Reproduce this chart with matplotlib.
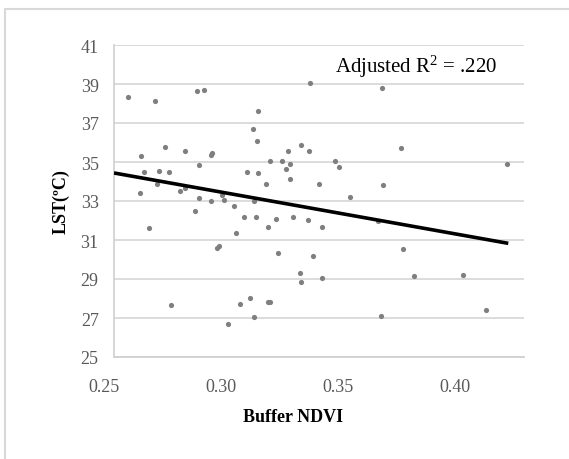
"""Buffer NDVI vs LST scatter with linear trendline (out.png)."""
import numpy as np
import matplotlib
matplotlib.use("Agg")
import matplotlib.pyplot as plt
import matplotlib.transforms as mtransforms
from matplotlib.patches import Rectangle

# values
ndvi = [0.2561, 0.2674, 0.2854, 0.2884, 0.2617, 0.2719, 0.2804, 0.2920, 0.2913,
        0.2862, 0.2629, 0.2691, 0.2736, 0.3066, 0.2612, 0.2685, 0.2782, 0.2803,
        0.2863, 0.2962, 0.3337, 0.3644, 0.3116, 0.3093, 0.3110, 0.3241, 0.3297,
        0.3331, 0.3723, 0.3167, 0.3218, 0.3252, 0.3235, 0.3445, 0.3462, 0.3116,
        0.3150, 0.3252, 0.3376, 0.3649, 0.3508, 0.4176, 0.2913, 0.2844, 0.2968,
        0.3013, 0.3054, 0.3019, 0.2651, 0.2947, 0.2941, 0.2743, 0.3038, 0.3080,
        0.2987, 0.3099, 0.3105, 0.3156, 0.3190, 0.3263, 0.3327, 0.3388, 0.3627,
        0.3201, 0.3349, 0.3733, 0.3293, 0.3298, 0.3389, 0.3779, 0.3156, 0.3167,
        0.3099, 0.3638, 0.3990, 0.4087]
lst = [38.32, 38.11, 38.64, 38.71, 35.31, 35.78, 35.58, 35.45, 35.37,
       34.83, 34.49, 34.55, 34.49, 34.49, 33.41, 33.87, 33.53, 33.67,
       33.15, 33.32, 39.05, 38.78, 37.63, 36.68, 36.06, 35.58, 35.86,
       35.58, 35.72, 35.04, 35.04, 34.90, 34.63, 35.04, 34.76, 34.42,
       33.87, 34.14, 33.87, 33.81, 33.21, 34.90, 32.98, 32.50, 33.05,
       32.73, 32.16, 31.36, 31.63, 30.68, 30.61, 27.67, 27.73, 28.01,
       26.71, 33.02, 32.16, 31.68, 32.09, 32.16, 32.03, 31.68, 31.96,
       30.33, 30.18, 30.52, 29.31, 28.83, 29.04, 29.15, 27.81, 27.81,
       27.05, 27.12, 29.22, 27.39]
trend_intercept = 39.80
trend_slope = -21.45
trend_x = [0.25, 0.4183]
x_ticks = [0.25, 0.30, 0.35, 0.40]
y_ticks = [25, 27, 29, 31, 33, 35, 37, 39, 41]

plt.rcParams["font.family"] = ["Liberation Serif", "DejaVu Serif"]
plt.rcParams["mathtext.fontset"] = "custom"
plt.rcParams["mathtext.rm"] = "Liberation Serif"
plt.rcParams["mathtext.it"] = "Liberation Serif:italic"

fig = plt.figure(figsize=(5.69, 4.60), dpi=100)
# chart-area frame; only its left and top edges fall inside the picture
fig.patches.append(Rectangle((5 / 569, -0.1), 1.2, 1.1 - 10 / 460,
                             transform=fig.transFigure, fill=False,
                             edgecolor="#d9d9d9", lw=1.5))
ax = fig.add_axes([114 / 569, 102 / 460, 410 / 569, 312 / 460])

ax.scatter(ndvi, lst, s=14, color="#7f7f7f", linewidths=0, zorder=3)
tx = np.array(trend_x)
ax.plot(tx, trend_intercept + trend_slope * tx, color="black", lw=2.6,
        solid_capstyle="butt", zorder=4)

ax.set_xlim(0.25, 0.425)
ax.set_ylim(25, 41)
ax.set_xticks(x_ticks)
ax.set_xticklabels([f"{v:.2f}" for v in x_ticks])
ax.set_yticks(y_ticks)
ax.grid(axis="y", color="#d9d9d9", lw=1.3)
ax.set_axisbelow(True)
for side in ("top", "right"):
    ax.spines[side].set_visible(False)
ax.spines["left"].set_color("#d0d0d0")
ax.spines["bottom"].set_color("#d0d0d0")
ax.spines["left"].set_linewidth(1.2)
ax.spines["bottom"].set_linewidth(1.3)
ax.tick_params(axis="both", length=0, labelsize=13, labelcolor="#595959")
ax.tick_params(axis="x", pad=15)
ax.tick_params(axis="y", pad=11)
shift = mtransforms.ScaledTranslation(-10 / 100, 0, fig.dpi_scale_trans)
for lab in ax.get_xticklabels():
    lab.set_transform(lab.get_transform() + shift)

ax.set_ylabel("LST(ºC)", fontsize=13, fontweight="bold", labelpad=8)
ax.set_xlabel("Buffer NDVI", fontsize=13, fontweight="bold")
ax.xaxis.set_label_coords(0.437, -0.163)
ax.text(0.539, 39.92, r"Adjusted R$^{2}$ = .220", transform=ax.get_yaxis_transform(),
        fontsize=15, va="center", ha="left", color="black")

fig.savefig("out.png", dpi=100)
